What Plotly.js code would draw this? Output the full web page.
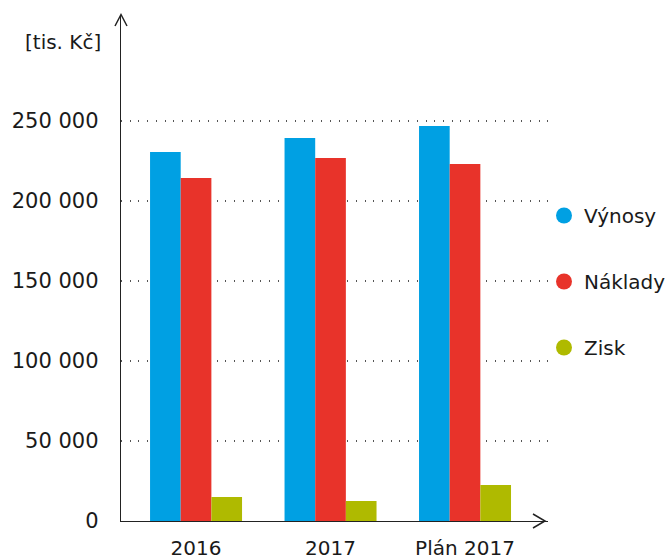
<!DOCTYPE html>
<html>
<head>
<meta charset="utf-8">
<script src="https://cdn.plot.ly/plotly-3.0.1.min.js"></script>
<style>html,body{margin:0;padding:0;background:#fff;}#chart{width:670px;height:560px;}</style>
</head>
<body>
<div id="chart"></div>
<script>
const categories = ['2016', '2017', 'Plán 2017'];
const vynosy = [230600, 239400, 246900];
const naklady = [214400, 226900, 223100];
const zisk = [15000, 12500, 22500];
const seriesNames = ['Výnosy', 'Náklady', 'Zisk'];
const seriesColors = ['#00A0E3', '#E8332A', '#AFBA00'];
const yTicks = [0, 50000, 100000, 150000, 200000, 250000];
const yTitle = '[tis. Kč]';

const L = 121, R = 122, T = 15, B = 39, W = 670, H = 560;
const pw = W - L - R, ph = H - T - B;
const px = v => v / pw, py = v => v / ph;

const FONT = 'DejaVu Sans';
const series = [vynosy, naklady, zisk];
const traces = series.map((vals, i) => ({
  type: 'bar', x: categories, y: vals, name: seriesNames[i],
  marker: {color: seriesColors[i]}, showlegend: false, hoverinfo: 'none'
}));
seriesNames.forEach((n, i) => traces.push({
  type: 'scatter', mode: 'markers', x: [null], y: [null], name: n,
  legendgroup: 'g' + i,
  marker: {color: seriesColors[i], size: 17, symbol: 'circle'}, hoverinfo: 'none'
}));

const layout = {
  width: W, height: H,
  margin: {l: L, r: R, t: T, b: B, pad: 0, autoexpand: false},
  paper_bgcolor: '#fff', plot_bgcolor: '#fff',
  separators: ', ',
  font: {family: FONT, size: 20, color: '#1a1a1a'},
  barmode: 'group', bargap: 0.316, bargroupgap: 0,
  xaxis: {
    type: 'category', range: [-0.558, 2.617],
    showline: true, linecolor: '#222', linewidth: 1.3,
    showgrid: false, zeroline: false, ticks: '', ticklabelstandoff: 9,
    tickfont: {family: FONT, size: 20, color: '#1a1a1a'}, fixedrange: true
  },
  yaxis: {
    range: [0, 316250], tickvals: yTicks, tickformat: ',d',
    showline: true, linecolor: '#222', linewidth: 1.3,
    showgrid: true, gridcolor: '#555', gridwidth: 1.2, griddash: '1px,7.7px',
    zeroline: false, ticks: '', ticklabelstandoff: 17,
    tickfont: {family: FONT, size: 21, color: '#1a1a1a'}, fixedrange: true
  },
  legend: {
    x: px(544 - L), xanchor: 'left', y: py(521 - 196), yanchor: 'top',
    tracegroupgap: 37, font: {family: FONT, size: 20, color: '#1a1a1a'},
    bgcolor: 'rgba(0,0,0,0)', itemclick: false, itemdoubleclick: false
  },
  annotations: [{
    text: yTitle, xref: 'paper', yref: 'paper', x: px(-18), y: py(521 - 42),
    xanchor: 'right', yanchor: 'middle', showarrow: false,
    font: {family: FONT, size: 20, color: '#1a1a1a'}
  }],
  shapes: [
    {type: 'path', xref: 'paper', yref: 'paper',
     path: `M${px(-6)},${1 - py(11)} L0,${1 + py(0.5)} L${px(6)},${1 - py(11)}`,
     line: {color: '#222', width: 1.5}},
    {type: 'path', xref: 'paper', yref: 'paper',
     path: `M${1 - px(15)},${py(7)} L${1 - px(3)},0 L${1 - px(15)},${-py(7)}`,
     line: {color: '#222', width: 1.5}}
  ]
};
Plotly.newPlot('chart', traces, layout, {staticPlot: true, displayModeBar: false});
</script>
</body>
</html>
